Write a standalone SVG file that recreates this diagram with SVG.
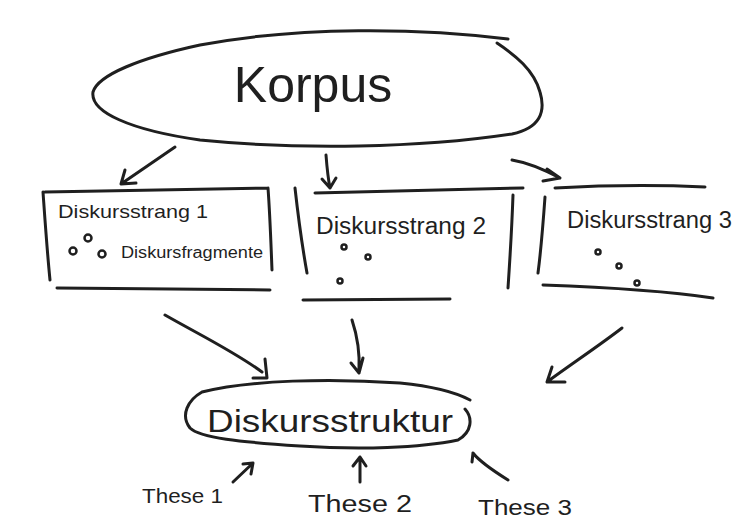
<svg xmlns="http://www.w3.org/2000/svg" width="734" height="531" viewBox="0 0 734 531">
<style>
.s{fill:none;stroke:#1f1f1f;stroke-width:3;stroke-linecap:round;stroke-linejoin:round}
.t{font-family:"Liberation Sans","DejaVu Sans",sans-serif;fill:#1f1f1f}
.d{fill:none;stroke:#1f1f1f;stroke-width:2.5}
</style>
<rect width="734" height="531" fill="#ffffff"/>
<g id="korpus">
<path class="s" d="M508,39 C420,28 300,26 200,45 C140,58 98,75 93,92 C90,112 130,130 200,140 C300,150 420,148 512,134 C540,128 546,112 540,92 C534,70 515,55 497,43"/>
<text class="t" x="313" y="102" font-size="50" text-anchor="middle">Korpus</text>
</g>
<g id="strang1">
<path class="s" d="M45,192 L268,188 M43,192 C45,220 47,250 50,280 M268,188 C270,215 271,245 272,270 M57,288 L270,290"/>
<text class="t" x="58" y="218" font-size="19" textLength="150" lengthAdjust="spacingAndGlyphs">Diskursstrang 1</text>
<circle class="d" cx="73" cy="251" r="3.5"/>
<circle class="d" cx="88" cy="238" r="3.5"/>
<circle class="d" cx="102" cy="254" r="3.5"/>
<text class="t" x="121" y="258" font-size="16" textLength="142" lengthAdjust="spacingAndGlyphs">Diskursfragmente</text>
</g>
<g id="strang2">
<path class="s" d="M295,188 C298,215 302,245 307,273 M315,193 L523,188 M513,195 C512,225 510,258 508,288 M303,300 L450,299"/>
<text class="t" x="316" y="234" font-size="23" textLength="170" lengthAdjust="spacingAndGlyphs">Diskursstrang 2</text>
<circle class="d" cx="344" cy="247" r="2.5"/>
<circle class="d" cx="368" cy="257" r="2.5"/>
<circle class="d" cx="340" cy="281" r="2.5"/>
</g>
<g id="strang3">
<path class="s" d="M555,188 C610,185 660,185 705,187 M545,197 C543,225 541,250 538,273 M543,285 C600,287 660,290 713,298"/>
<text class="t" x="567" y="228" font-size="23" textLength="165" lengthAdjust="spacingAndGlyphs">Diskursstrang 3</text>
<circle class="d" cx="598" cy="252" r="2.5"/>
<circle class="d" cx="619" cy="266" r="2.5"/>
<circle class="d" cx="637" cy="283" r="2.5"/>
</g>
<g id="diskursstruktur">
<path class="s" d="M202,392 C250,380 330,378 400,383 C430,386 455,392 470,400 M465,409 C473,418 472,432 458,440 C420,448 360,450 300,446 C240,442 200,438 190,428 C180,415 188,400 202,392"/>
<text class="t" x="207" y="432" font-size="31" textLength="246" lengthAdjust="spacingAndGlyphs">Diskursstruktur</text>
</g>
<g id="these1"><text class="t" x="142" y="503" font-size="21" textLength="81" lengthAdjust="spacingAndGlyphs">These 1</text></g>
<g id="these2"><text class="t" x="308" y="512" font-size="23" textLength="104" lengthAdjust="spacingAndGlyphs">These 2</text></g>
<g id="these3"><text class="t" x="478" y="515" font-size="22" textLength="94" lengthAdjust="spacingAndGlyphs">These 3</text></g>
<g id="connectors">
<path class="s" d="M175,147 L121,184 M121,184 L136,183 M121,184 L125,170"/>
<path class="s" d="M326,155 C327,168 328,178 330,188 M322,179 L330,188 L336,178"/>
<path class="s" d="M512,160 C530,163 545,170 560,178 M547,169 L560,178 L543,181"/>
<path class="s" d="M165,315 C200,335 235,352 262,372 M265,359 L267,378 L253,378"/>
<path class="s" d="M352,320 C357,335 360,352 359,371 M351,363 L359,373 L363,358"/>
<path class="s" d="M622,328 C600,345 570,365 547,382 M552,367 L547,382 L565,382"/>
<path class="s" d="M233,482 L253,463 M243,464 L253,463 L251,474"/>
<path class="s" d="M360,482 L360,457 M353,466 L360,457 L366,466"/>
<path class="s" d="M508,480 C492,470 480,462 473,453 M472,462 L473,453"/>
</g>
</svg>
